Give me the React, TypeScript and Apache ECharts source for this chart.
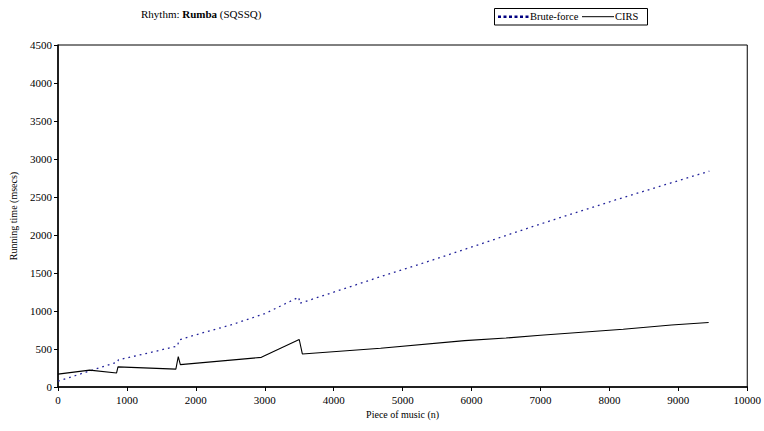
import React, { useEffect, useRef } from "react";
import * as echarts from "echarts";

const titleText = "Rhythm: {b|Rumba} (SQSSQ)";
const xName = "Piece of music (n)";
const yName = "Running time (msecs)";
const seriesNames = ["Brute-force", "CIRS"];

const bruteX = [0, 440, 870, 875, 1300, 1735, 1755, 2072, 2507, 3000, 3495, 3505, 4681, 5500, 7000, 8087, 9450];
const bruteY = [78, 205, 330, 358, 445, 540, 620, 706, 816, 965, 1182, 1100, 1452, 1690, 2145, 2461, 2840];

const cirsX = [0, 460, 850, 870, 1710, 1745, 1775, 2950, 3500, 3545, 4680, 5900, 6500, 7000, 8200, 8900, 9440];
const cirsY = [170, 222, 185, 265, 235, 400, 295, 390, 625, 435, 510, 610, 645, 680, 760, 815, 848];

const FONT = "Liberation Serif";
const NAVY = "#000080";

export default function App() {
  const ref = useRef<HTMLDivElement>(null);
  useEffect(() => {
    if (!ref.current) return;
    const chart = echarts.init(ref.current, undefined, { renderer: "svg" });
    chart.setOption({
      animation: false,
      textStyle: { fontFamily: FONT, color: "#000" },
      title: {
        text: titleText,
        left: 141,
        top: 8,
        padding: 0,
        textStyle: {
          fontFamily: FONT,
          fontSize: 11,
          fontWeight: "normal",
          color: "#000",
          rich: { b: { fontFamily: FONT, fontSize: 11, fontWeight: "bold", color: "#000" } },
        },
      },
      graphic: [
        { type: "rect", shape: { x: 494.5, y: 8.5, width: 153, height: 16.5 }, style: { fill: "#fff", stroke: "#000", lineWidth: 1 } },
        { type: "line", shape: { x1: 498, y1: 16.7, x2: 529, y2: 16.7 }, style: { stroke: NAVY, lineWidth: 2.5, lineDash: [3, 2.5] } },
        { type: "text", x: 530, y: 16.7, style: { text: seriesNames[0], font: `10.5px ${FONT}`, fill: "#000", textVerticalAlign: "middle", verticalAlign: "middle" } },
        { type: "line", shape: { x1: 582, y1: 16.7, x2: 614, y2: 16.7 }, style: { stroke: "#000", lineWidth: 1 } },
        { type: "text", x: 615, y: 16.7, style: { text: seriesNames[1], font: `10.5px ${FONT}`, fill: "#000", textVerticalAlign: "middle", verticalAlign: "middle" } },
      ],
      grid: {
        left: 57,
        right: 16,
        top: 45,
        bottom: 44,
        show: true,
        borderColor: "#000",
        borderWidth: 1,
        backgroundColor: "transparent",
      },
      xAxis: {
        type: "value",
        min: 0,
        max: 10000,
        interval: 1000,
        name: xName,
        nameLocation: "middle",
        nameGap: 20,
        nameTextStyle: { fontFamily: FONT, fontSize: 10, color: "#000" },
        axisLine: { show: true, onZero: false, lineStyle: { color: "#000", width: 1.5 } },
        axisTick: { show: true, length: 4, lineStyle: { color: "#000" } },
        axisLabel: { fontFamily: FONT, fontSize: 11, color: "#000", margin: 7, formatter: (v: number) => String(v) },
        splitLine: { show: false },
      },
      yAxis: {
        type: "value",
        min: 0,
        max: 4500,
        interval: 500,
        name: yName,
        nameLocation: "middle",
        nameGap: 40,
        nameTextStyle: { fontFamily: FONT, fontSize: 10, color: "#000" },
        axisLine: { show: true, lineStyle: { color: "#000", width: 1.5 } },
        axisTick: { show: true, length: 4, lineStyle: { color: "#000" } },
        axisLabel: { fontFamily: FONT, fontSize: 11, color: "#000", margin: 6, formatter: (v: number) => String(v) },
        splitLine: { show: false },
      },
      series: [
        {
          name: seriesNames[0],
          type: "line",
          data: bruteX.map((x, i) => [x, bruteY[i]]),
          showSymbol: false,
          symbol: "none",
          color: NAVY,
          lineStyle: { color: "#22229a", width: 1.3, type: [1.8, 4] },
        },
        {
          name: seriesNames[1],
          type: "line",
          data: cirsX.map((x, i) => [x, cirsY[i]]),
          showSymbol: false,
          symbol: "none",
          color: "#000",
          lineStyle: { color: "#000", width: 1.1 },
        },
      ],
    });
    return () => chart.dispose();
  }, []);
  return <div ref={ref} style={{ width: 764, height: 431, position: "absolute", left: 0, top: 0 }} />;
}
